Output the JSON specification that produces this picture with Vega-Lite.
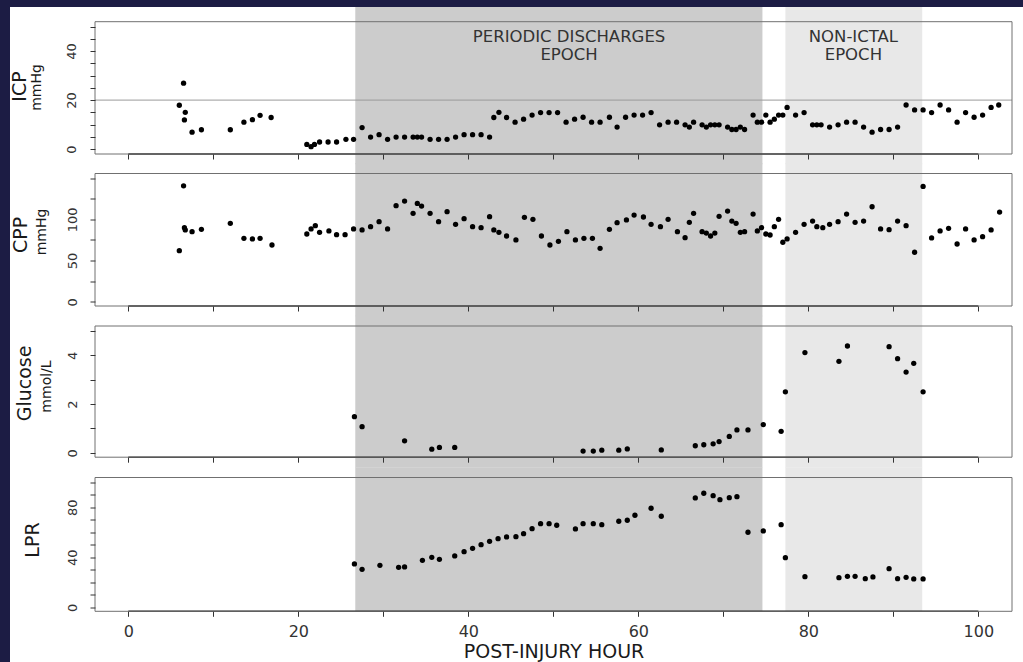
{
  "$schema": "https://vega.github.io/schema/vega-lite/v6.json",
  "padding": 0,
  "background": "white",
  "bounds": "flush",
  "spacing": 0,
  "config": {
    "view": {"stroke": null},
    "font": "DejaVu Sans",
    "axis": {"labelFont": "DejaVu Sans", "titleFont": "DejaVu Sans", "titleFontWeight": "normal", "labelColor": "#333", "titleColor": "#1a1a1a"},
    "text": {"font": "DejaVu Sans"}
  },
  "datasets": {
    "bands": [
      {"start": 26.7, "end": 74.6, "shade": "periodic discharges"},
      {"start": 77.3, "end": 93.4, "shade": "non-ictal"}
    ],
    "icp": [
      {"h": 6.0, "v": 17.9}, {"h": 6.5, "v": 26.9}, {"h": 6.7, "v": 15.0}, {"h": 6.6, "v": 11.9}, {"h": 7.5, "v": 6.9}, {"h": 8.6, "v": 7.9},
      {"h": 12.0, "v": 7.9}, {"h": 13.6, "v": 11.0}, {"h": 14.6, "v": 12.0}, {"h": 15.5, "v": 13.8}, {"h": 16.8, "v": 12.9},
      {"h": 21.0, "v": 1.9}, {"h": 21.5, "v": 1.0}, {"h": 21.9, "v": 1.9}, {"h": 22.5, "v": 2.9}, {"h": 23.5, "v": 2.9}, {"h": 24.5, "v": 2.9},
      {"h": 25.6, "v": 4.0}, {"h": 26.5, "v": 4.0}, {"h": 27.5, "v": 8.8}, {"h": 28.5, "v": 4.9}, {"h": 29.5, "v": 5.9}, {"h": 30.5, "v": 4.0},
      {"h": 31.5, "v": 4.9}, {"h": 32.5, "v": 4.9}, {"h": 33.5, "v": 4.9}, {"h": 34.0, "v": 4.9}, {"h": 34.5, "v": 4.9}, {"h": 35.5, "v": 4.0},
      {"h": 36.5, "v": 4.0}, {"h": 37.5, "v": 4.0}, {"h": 38.5, "v": 4.9}, {"h": 39.5, "v": 5.9}, {"h": 40.5, "v": 5.9}, {"h": 41.5, "v": 5.9},
      {"h": 42.5, "v": 4.9}, {"h": 43.0, "v": 12.9}, {"h": 43.6, "v": 15.0}, {"h": 44.5, "v": 12.9}, {"h": 45.5, "v": 11.0}, {"h": 46.5, "v": 12.2},
      {"h": 47.5, "v": 13.9}, {"h": 48.5, "v": 14.9}, {"h": 49.5, "v": 14.9}, {"h": 50.5, "v": 14.9}, {"h": 51.5, "v": 11.0}, {"h": 52.5, "v": 12.2},
      {"h": 53.5, "v": 13.0}, {"h": 54.5, "v": 11.0}, {"h": 55.5, "v": 11.0}, {"h": 56.6, "v": 13.0}, {"h": 57.5, "v": 9.0}, {"h": 58.5, "v": 13.0},
      {"h": 59.5, "v": 13.9}, {"h": 60.5, "v": 13.9}, {"h": 61.5, "v": 14.9}, {"h": 62.5, "v": 9.9}, {"h": 63.5, "v": 11.0}, {"h": 64.5, "v": 11.0},
      {"h": 65.5, "v": 9.9}, {"h": 66.0, "v": 9.0}, {"h": 66.5, "v": 11.0}, {"h": 67.5, "v": 9.9}, {"h": 68.0, "v": 9.0}, {"h": 68.5, "v": 9.9},
      {"h": 69.0, "v": 9.9}, {"h": 69.5, "v": 9.9}, {"h": 70.5, "v": 9.0}, {"h": 71.0, "v": 8.0}, {"h": 71.5, "v": 8.0}, {"h": 72.0, "v": 9.0},
      {"h": 72.5, "v": 8.0}, {"h": 73.5, "v": 13.9}, {"h": 74.0, "v": 11.0}, {"h": 74.5, "v": 11.0}, {"h": 75.0, "v": 13.9}, {"h": 75.5, "v": 11.0},
      {"h": 76.0, "v": 12.2}, {"h": 76.5, "v": 13.9}, {"h": 77.0, "v": 13.9}, {"h": 77.5, "v": 17.0}, {"h": 78.5, "v": 13.9}, {"h": 79.5, "v": 14.9},
      {"h": 80.5, "v": 9.9}, {"h": 81.0, "v": 9.9}, {"h": 81.5, "v": 9.9}, {"h": 82.5, "v": 9.0}, {"h": 83.5, "v": 9.9}, {"h": 84.5, "v": 11.0},
      {"h": 85.5, "v": 11.0}, {"h": 86.5, "v": 9.0}, {"h": 87.5, "v": 6.9}, {"h": 88.5, "v": 8.0}, {"h": 89.5, "v": 8.0}, {"h": 90.5, "v": 9.0},
      {"h": 91.5, "v": 18.0}, {"h": 92.5, "v": 16.0}, {"h": 93.5, "v": 16.0}, {"h": 94.5, "v": 14.9}, {"h": 95.5, "v": 18.0}, {"h": 96.5, "v": 16.0},
      {"h": 97.5, "v": 11.0}, {"h": 98.5, "v": 14.9}, {"h": 99.5, "v": 13.0}, {"h": 100.5, "v": 13.9}, {"h": 101.5, "v": 17.0}, {"h": 102.4, "v": 18.0}
    ],
    "cpp": [
      {"h": 6.0, "v": 62.0}, {"h": 6.5, "v": 140.6}, {"h": 6.6, "v": 89.9}, {"h": 6.7, "v": 87.1}, {"h": 7.5, "v": 85.0}, {"h": 8.6, "v": 87.9},
      {"h": 12.0, "v": 95.1}, {"h": 13.6, "v": 77.0}, {"h": 14.6, "v": 76.2}, {"h": 15.5, "v": 77.0}, {"h": 16.9, "v": 68.9},
      {"h": 21.0, "v": 82.2}, {"h": 21.5, "v": 88.3}, {"h": 22.0, "v": 92.3}, {"h": 22.5, "v": 84.3}, {"h": 23.6, "v": 85.9}, {"h": 24.5, "v": 81.4},
      {"h": 25.5, "v": 81.4}, {"h": 26.5, "v": 88.3}, {"h": 27.5, "v": 87.1}, {"h": 28.5, "v": 91.1}, {"h": 29.5, "v": 97.1}, {"h": 30.5, "v": 88.3},
      {"h": 31.5, "v": 116.5}, {"h": 32.5, "v": 122.1}, {"h": 33.5, "v": 107.3}, {"h": 34.0, "v": 119.3}, {"h": 34.5, "v": 116.1}, {"h": 35.5, "v": 107.3},
      {"h": 36.5, "v": 97.1}, {"h": 37.5, "v": 109.2}, {"h": 38.5, "v": 94.0}, {"h": 39.5, "v": 100.8}, {"h": 40.5, "v": 91.1}, {"h": 41.5, "v": 89.9},
      {"h": 42.5, "v": 103.2}, {"h": 43.0, "v": 87.1}, {"h": 43.6, "v": 84.3}, {"h": 44.5, "v": 79.8}, {"h": 45.6, "v": 75.0}, {"h": 46.6, "v": 102.4},
      {"h": 47.6, "v": 100.0}, {"h": 48.6, "v": 79.8}, {"h": 49.6, "v": 68.9}, {"h": 50.6, "v": 73.4}, {"h": 51.6, "v": 85.0}, {"h": 52.6, "v": 75.0},
      {"h": 53.6, "v": 77.0}, {"h": 54.6, "v": 77.0}, {"h": 55.5, "v": 64.9}, {"h": 56.6, "v": 87.9}, {"h": 57.5, "v": 95.9}, {"h": 58.6, "v": 99.2},
      {"h": 59.5, "v": 105.2}, {"h": 60.6, "v": 102.8}, {"h": 61.5, "v": 94.0}, {"h": 62.6, "v": 91.1}, {"h": 63.5, "v": 100.0}, {"h": 64.6, "v": 85.0},
      {"h": 65.5, "v": 77.8}, {"h": 66.0, "v": 96.3}, {"h": 66.5, "v": 107.3}, {"h": 67.5, "v": 85.0}, {"h": 68.0, "v": 83.4}, {"h": 68.5, "v": 79.8},
      {"h": 69.0, "v": 83.4}, {"h": 69.5, "v": 103.6}, {"h": 70.5, "v": 110.0}, {"h": 71.0, "v": 97.9}, {"h": 71.5, "v": 95.1}, {"h": 72.0, "v": 84.3},
      {"h": 72.5, "v": 85.0}, {"h": 73.5, "v": 106.4}, {"h": 74.0, "v": 85.9}, {"h": 74.5, "v": 89.9}, {"h": 75.0, "v": 82.2}, {"h": 75.5, "v": 81.0},
      {"h": 76.0, "v": 91.1}, {"h": 76.5, "v": 100.0}, {"h": 77.0, "v": 72.2}, {"h": 77.5, "v": 76.2}, {"h": 78.5, "v": 84.3}, {"h": 79.5, "v": 94.0},
      {"h": 80.5, "v": 97.9}, {"h": 81.0, "v": 91.1}, {"h": 81.7, "v": 89.9}, {"h": 82.5, "v": 94.0}, {"h": 83.5, "v": 97.1}, {"h": 84.5, "v": 106.4},
      {"h": 85.5, "v": 96.3}, {"h": 86.5, "v": 97.9}, {"h": 87.5, "v": 115.2}, {"h": 88.5, "v": 88.3}, {"h": 89.5, "v": 87.5}, {"h": 90.5, "v": 97.9},
      {"h": 91.5, "v": 92.3}, {"h": 92.5, "v": 60.1}, {"h": 93.5, "v": 139.9}, {"h": 94.5, "v": 77.4}, {"h": 95.5, "v": 85.9}, {"h": 96.5, "v": 89.1},
      {"h": 97.5, "v": 70.1}, {"h": 98.5, "v": 88.3}, {"h": 99.5, "v": 75.0}, {"h": 100.5, "v": 79.0}, {"h": 101.5, "v": 87.1}, {"h": 102.5, "v": 108.8}
    ],
    "glucose": [
      {"h": 26.6, "v": 1.48}, {"h": 27.5, "v": 1.07}, {"h": 32.5, "v": 0.49}, {"h": 35.7, "v": 0.15}, {"h": 36.6, "v": 0.22}, {"h": 38.4, "v": 0.22},
      {"h": 53.5, "v": 0.07}, {"h": 54.7, "v": 0.07}, {"h": 55.7, "v": 0.11}, {"h": 57.7, "v": 0.11}, {"h": 58.7, "v": 0.16}, {"h": 62.7, "v": 0.12},
      {"h": 66.7, "v": 0.29}, {"h": 67.7, "v": 0.33}, {"h": 68.8, "v": 0.37}, {"h": 69.5, "v": 0.46}, {"h": 70.7, "v": 0.67}, {"h": 71.6, "v": 0.94},
      {"h": 72.9, "v": 0.94}, {"h": 74.7, "v": 1.16}, {"h": 76.8, "v": 0.88}, {"h": 77.3, "v": 2.50}, {"h": 79.6, "v": 4.11}, {"h": 83.6, "v": 3.75},
      {"h": 84.6, "v": 4.38}, {"h": 89.5, "v": 4.35}, {"h": 90.5, "v": 3.86}, {"h": 91.5, "v": 3.31}, {"h": 92.4, "v": 3.67}, {"h": 93.5, "v": 2.50}
    ],
    "lpr": [
      {"h": 26.6, "v": 34.7}, {"h": 27.5, "v": 30.4}, {"h": 29.6, "v": 33.6}, {"h": 31.8, "v": 32.0}, {"h": 32.5, "v": 32.3}, {"h": 34.6, "v": 37.6},
      {"h": 35.7, "v": 40.0}, {"h": 36.6, "v": 38.4}, {"h": 38.4, "v": 41.1}, {"h": 39.5, "v": 44.5}, {"h": 40.5, "v": 47.2}, {"h": 41.5, "v": 50.1},
      {"h": 42.5, "v": 52.8}, {"h": 43.5, "v": 54.9}, {"h": 44.5, "v": 56.3}, {"h": 45.6, "v": 56.5}, {"h": 46.5, "v": 58.9}, {"h": 47.5, "v": 62.9},
      {"h": 48.5, "v": 66.9}, {"h": 49.5, "v": 66.9}, {"h": 50.4, "v": 65.6}, {"h": 52.6, "v": 62.7}, {"h": 53.5, "v": 66.9}, {"h": 54.7, "v": 66.9},
      {"h": 55.7, "v": 66.1}, {"h": 57.7, "v": 68.8}, {"h": 58.7, "v": 69.6}, {"h": 59.6, "v": 73.6}, {"h": 61.5, "v": 79.2}, {"h": 62.7, "v": 72.8},
      {"h": 66.7, "v": 87.5}, {"h": 67.7, "v": 91.2}, {"h": 68.8, "v": 89.3}, {"h": 69.6, "v": 86.1}, {"h": 70.7, "v": 87.7}, {"h": 71.6, "v": 88.5},
      {"h": 72.9, "v": 60.0}, {"h": 74.7, "v": 61.1}, {"h": 76.8, "v": 66.1}, {"h": 77.3, "v": 39.7}, {"h": 79.6, "v": 24.5}, {"h": 83.6, "v": 23.7},
      {"h": 84.6, "v": 24.8}, {"h": 85.5, "v": 24.8}, {"h": 86.7, "v": 22.9}, {"h": 87.6, "v": 24.3}, {"h": 89.5, "v": 30.9}, {"h": 90.5, "v": 22.9},
      {"h": 91.5, "v": 24.0}, {"h": 92.4, "v": 22.7}, {"h": 93.5, "v": 22.7}
    ]
  },
  "vconcat": [
    {
      "width": 1023, "height": 7,
      "view": {"fill": "#1c1c44", "stroke": null},
      "data": {"values": [{}]},
      "mark": {"type": "point", "opacity": 0},
      "encoding": {}
    },
    {
      "bounds": "flush",
      "spacing": 85,
      "hconcat": [
        {
          "width": 10, "height": 655,
          "view": {"fill": "#1c1c44", "stroke": null},
          "data": {"values": [{}]},
          "mark": {"type": "point", "opacity": 0},
          "encoding": {}
        },
        {
          "bounds": "flush",
          "spacing": 19.5,
          "vconcat": [
            {
              "width": 917, "height": 147,
              "resolve": {"axis": {"x": "independent", "y": "independent"}},
              "layer": [
                {
                  "data": {"name": "bands"},
                  "mark": {"type": "rect"},
                  "encoding": {
                    "x": {"field": "start", "type": "quantitative", "scale": {"domain": [-3.92, 103.96], "nice": false, "zero": false}, "axis": null},
                    "x2": {"field": "end"},
                    "y": {"datum": 58, "type": "quantitative", "scale": {"domain": [-2, 58], "nice": false, "zero": false},
                      "axis": {"orient": "left", "title": "ICP", "ticks": false, "labels": false, "domain": false, "grid": false, "titleFontSize": 19, "titleAngle": -90, "titleBaseline": "alphabetic", "titleAlign": "center", "titleX": -70, "titleY": 79}},
                    "y2": {"datum": -6.2},
                    "color": {"field": "shade", "type": "nominal", "scale": {"domain": ["periodic discharges", "non-ictal"], "range": ["#cccccc", "#e8e8e8"]}, "legend": null}
                  }
                },
                {
                  "data": {"values": [{}]},
                  "mark": {"type": "rule", "color": "#9a9a9a", "strokeWidth": 1},
                  "encoding": {
                    "y": {"datum": 20, "type": "quantitative", "scale": {"domain": [-2, 58], "nice": false, "zero": false}, "axis": null}
                  }
                },
                {
                  "data": {"values": [{}]},
                  "mark": {"type": "rule", "color": "#222", "strokeWidth": 1.5},
                  "encoding": {
                    "x": {"datum": 0, "type": "quantitative", "scale": {"domain": [-3.92, 103.96], "nice": false, "zero": false}, "axis": null},
                    "x2": {"datum": 100},
                    "y": {"datum": -2, "type": "quantitative", "scale": {"domain": [-2, 58], "nice": false, "zero": false}, "axis": null}
                  }
                },
                {
                  "data": {"name": "icp"},
                  "mark": {"type": "circle", "color": "#000", "size": 28, "opacity": 1},
                  "encoding": {
                    "x": {"field": "h", "type": "quantitative", "scale": {"domain": [-3.92, 103.96], "nice": false, "zero": false},
                      "axis": {"orient": "bottom", "values": [0, 10, 20, 30, 40, 50, 60, 70, 80, 90, 100], "labels": false, "title": null, "domain": false, "grid": false, "tickSize": 5, "tickColor": "#333", "zindex": 1}},
                    "y": {"field": "v", "type": "quantitative", "scale": {"domain": [-2, 58], "nice": false, "zero": false},
                      "axis": {"orient": "left", "title": "mmHg", "values": [0, 5, 10, 15, 20, 25, 30, 35, 40, 45, 50], "labelExpr": "datum.value % 20 === 0 ? datum.label : ''", "labelAngle": -90, "labelAlign": "center", "labelBaseline": "alphabetic", "labelFontSize": 13, "labelPadding": 15, "tickSize": 5, "tickColor": "#333", "domain": false, "grid": false, "titleFontSize": 14, "titleAngle": -90, "titleBaseline": "alphabetic", "titleAlign": "center", "titleX": -55, "titleY": 80, "zindex": 1}}
                  }
                },
                {
                  "data": {"values": [{}]},
                  "mark": {"type": "rect", "filled": false, "stroke": "#707070", "strokeWidth": 1},
                  "encoding": {
                    "x": {"datum": -3.92, "type": "quantitative", "scale": {"domain": [-3.92, 103.96], "nice": false, "zero": false}, "axis": null},
                    "x2": {"datum": 103.96},
                    "y": {"datum": 52, "type": "quantitative", "scale": {"domain": [-2, 58], "nice": false, "zero": false}, "axis": null},
                    "y2": {"datum": -2}
                  }
                },
                {
                  "data": {"values": [{"label": "PERIODIC DISCHARGES\nEPOCH"}]},
                  "mark": {"type": "text", "fontSize": 16.5, "color": "#333", "lineBreak": "\n", "lineHeight": 18, "baseline": "alphabetic", "align": "center"},
                  "encoding": {
                    "text": {"field": "label"},
                    "x": {"datum": 51.85, "type": "quantitative", "scale": {"domain": [-3.92, 103.96], "nice": false, "zero": false}, "axis": null},
                    "y": {"datum": 43.7, "type": "quantitative", "scale": {"domain": [-2, 58], "nice": false, "zero": false}, "axis": null}
                  }
                },
                {
                  "data": {"values": [{"label": "NON-ICTAL\nEPOCH"}]},
                  "mark": {"type": "text", "fontSize": 16.5, "color": "#333", "lineBreak": "\n", "lineHeight": 18, "baseline": "alphabetic", "align": "center"},
                  "encoding": {
                    "text": {"field": "label"},
                    "x": {"datum": 85.3, "type": "quantitative", "scale": {"domain": [-3.92, 103.96], "nice": false, "zero": false}, "axis": null},
                    "y": {"datum": 43.7, "type": "quantitative", "scale": {"domain": [-2, 58], "nice": false, "zero": false}, "axis": null}
                  }
                }
              ]
            },
            {
              "width": 917, "height": 132.5,
              "resolve": {"axis": {"x": "independent", "y": "independent"}},
              "layer": [
                {
                  "data": {"name": "bands"},
                  "mark": {"type": "rect"},
                  "encoding": {
                    "x": {"field": "start", "type": "quantitative", "scale": {"domain": [-3.92, 103.96], "nice": false, "zero": false}, "axis": null},
                    "x2": {"field": "end"},
                    "y": {"datum": 167.9, "type": "quantitative", "scale": {"domain": [-5, 155.5], "nice": false, "zero": false},
                      "axis": {"orient": "left", "title": "CPP", "ticks": false, "labels": false, "domain": false, "grid": false, "titleFontSize": 19, "titleAngle": -90, "titleBaseline": "alphabetic", "titleAlign": "center", "titleX": -69, "titleY": 61}},
                    "y2": {"datum": -17.4},
                    "color": {"field": "shade", "type": "nominal", "scale": {"domain": ["periodic discharges", "non-ictal"], "range": ["#cccccc", "#e8e8e8"]}, "legend": null}
                  }
                },
                {
                  "data": {"values": [{}]},
                  "mark": {"type": "rule", "color": "#222", "strokeWidth": 1.5},
                  "encoding": {
                    "x": {"datum": 0, "type": "quantitative", "scale": {"domain": [-3.92, 103.96], "nice": false, "zero": false}, "axis": null},
                    "x2": {"datum": 100},
                    "y": {"datum": -5, "type": "quantitative", "scale": {"domain": [-5, 155.5], "nice": false, "zero": false}, "axis": null}
                  }
                },
                {
                  "data": {"name": "cpp"},
                  "mark": {"type": "circle", "color": "#000", "size": 28, "opacity": 1},
                  "encoding": {
                    "x": {"field": "h", "type": "quantitative", "scale": {"domain": [-3.92, 103.96], "nice": false, "zero": false},
                      "axis": {"orient": "bottom", "values": [0, 10, 20, 30, 40, 50, 60, 70, 80, 90, 100], "labels": false, "title": null, "domain": false, "grid": false, "tickSize": 5, "tickColor": "#333", "zindex": 1}},
                    "y": {"field": "v", "type": "quantitative", "scale": {"domain": [-5, 155.5], "nice": false, "zero": false},
                      "axis": {"orient": "left", "title": "mmHg", "values": [0, 25, 50, 75, 100, 125, 150], "labelExpr": "datum.value % 50 === 0 && datum.value < 150 ? datum.label : ''", "labelAngle": -90, "labelAlign": "center", "labelBaseline": "alphabetic", "labelFontSize": 13, "labelPadding": 14, "tickSize": 5, "tickColor": "#333", "domain": false, "grid": false, "titleFontSize": 14, "titleAngle": -90, "titleBaseline": "alphabetic", "titleAlign": "center", "titleX": -50, "titleY": 58, "zindex": 1}}
                  }
                },
                {
                  "data": {"values": [{}]},
                  "mark": {"type": "rect", "filled": false, "stroke": "#707070", "strokeWidth": 1},
                  "encoding": {
                    "x": {"datum": -3.92, "type": "quantitative", "scale": {"domain": [-3.92, 103.96], "nice": false, "zero": false}, "axis": null},
                    "x2": {"datum": 103.96},
                    "y": {"datum": 155.5, "type": "quantitative", "scale": {"domain": [-5, 155.5], "nice": false, "zero": false}, "axis": null},
                    "y2": {"datum": -5}
                  }
                }
              ]
            },
            {
              "width": 917, "height": 131.2,
              "resolve": {"axis": {"x": "independent", "y": "independent"}},
              "layer": [
                {
                  "data": {"name": "bands"},
                  "mark": {"type": "rect"},
                  "encoding": {
                    "x": {"field": "start", "type": "quantitative", "scale": {"domain": [-3.92, 103.96], "nice": false, "zero": false}, "axis": null},
                    "x2": {"field": "end"},
                    "y": {"datum": 5.62, "type": "quantitative", "scale": {"domain": [-0.18, 5.2], "nice": false, "zero": false},
                      "axis": {"orient": "left", "title": "Glucose", "ticks": false, "labels": false, "domain": false, "grid": false, "titleFontSize": 19, "titleAngle": -90, "titleBaseline": "alphabetic", "titleAlign": "center", "titleX": -65, "titleY": 57}},
                    "y2": {"datum": -0.6},
                    "color": {"field": "shade", "type": "nominal", "scale": {"domain": ["periodic discharges", "non-ictal"], "range": ["#cccccc", "#e8e8e8"]}, "legend": null}
                  }
                },
                {
                  "data": {"values": [{}]},
                  "mark": {"type": "rule", "color": "#222", "strokeWidth": 1.5},
                  "encoding": {
                    "x": {"datum": 0, "type": "quantitative", "scale": {"domain": [-3.92, 103.96], "nice": false, "zero": false}, "axis": null},
                    "x2": {"datum": 100},
                    "y": {"datum": -0.18, "type": "quantitative", "scale": {"domain": [-0.18, 5.2], "nice": false, "zero": false}, "axis": null}
                  }
                },
                {
                  "data": {"name": "glucose"},
                  "mark": {"type": "circle", "color": "#000", "size": 28, "opacity": 1},
                  "encoding": {
                    "x": {"field": "h", "type": "quantitative", "scale": {"domain": [-3.92, 103.96], "nice": false, "zero": false},
                      "axis": {"orient": "bottom", "values": [0, 10, 20, 30, 40, 50, 60, 70, 80, 90, 100], "labels": false, "title": null, "domain": false, "grid": false, "tickSize": 5, "tickColor": "#333", "zindex": 1}},
                    "y": {"field": "v", "type": "quantitative", "scale": {"domain": [-0.18, 5.2], "nice": false, "zero": false},
                      "axis": {"orient": "left", "title": "mmol/L", "values": [0, 0.5, 1, 1.5, 2, 2.5, 3, 3.5, 4, 4.5, 5], "format": "d", "labelExpr": "datum.value === 0 || datum.value === 2 || datum.value === 4 ? datum.label : ''", "labelAngle": -90, "labelAlign": "center", "labelBaseline": "alphabetic", "labelFontSize": 13, "labelPadding": 14, "tickSize": 5, "tickColor": "#333", "domain": false, "grid": false, "titleFontSize": 14, "titleAngle": -90, "titleBaseline": "alphabetic", "titleAlign": "center", "titleX": -45, "titleY": 60, "zindex": 1}}
                  }
                },
                {
                  "data": {"values": [{}]},
                  "mark": {"type": "rect", "filled": false, "stroke": "#707070", "strokeWidth": 1},
                  "encoding": {
                    "x": {"datum": -3.92, "type": "quantitative", "scale": {"domain": [-3.92, 103.96], "nice": false, "zero": false}, "axis": null},
                    "x2": {"datum": 103.96},
                    "y": {"datum": 5.2, "type": "quantitative", "scale": {"domain": [-0.18, 5.2], "nice": false, "zero": false}, "axis": null},
                    "y2": {"datum": -0.18}
                  }
                }
              ]
            },
            {
              "width": 917, "height": 133.8,
              "resolve": {"axis": {"x": "independent", "y": "independent"}},
              "layer": [
                {
                  "data": {"name": "bands"},
                  "mark": {"type": "rect"},
                  "encoding": {
                    "x": {"field": "start", "type": "quantitative", "scale": {"domain": [-3.92, 103.96], "nice": false, "zero": false}, "axis": null},
                    "x2": {"field": "end"},
                    "y": {"datum": 111.9, "type": "quantitative", "scale": {"domain": [-3.2, 103.8], "nice": false, "zero": false}, "axis": null},
                    "y2": {"datum": -3.2},
                    "color": {"field": "shade", "type": "nominal", "scale": {"domain": ["periodic discharges", "non-ictal"], "range": ["#cccccc", "#e8e8e8"]}, "legend": null}
                  }
                },
                {
                  "data": {"values": [{}]},
                  "mark": {"type": "rule", "color": "#222", "strokeWidth": 1.5},
                  "encoding": {
                    "x": {"datum": 0, "type": "quantitative", "scale": {"domain": [-3.92, 103.96], "nice": false, "zero": false}, "axis": null},
                    "x2": {"datum": 100},
                    "y": {"datum": -3.2, "type": "quantitative", "scale": {"domain": [-3.2, 103.8], "nice": false, "zero": false}, "axis": null}
                  }
                },
                {
                  "data": {"name": "lpr"},
                  "mark": {"type": "circle", "color": "#000", "size": 28, "opacity": 1},
                  "encoding": {
                    "x": {"field": "h", "type": "quantitative", "scale": {"domain": [-3.92, 103.96], "nice": false, "zero": false},
                      "axis": {"orient": "bottom", "values": [0, 10, 20, 30, 40, 50, 60, 70, 80, 90, 100], "labelExpr": "datum.value % 20 === 0 ? datum.label : ''", "labelFontSize": 16, "labelBaseline": "alphabetic", "labelPadding": 20, "title": "POST-INJURY HOUR", "titleFontSize": 19, "titleBaseline": "alphabetic", "titleY": 46, "domain": false, "grid": false, "tickSize": 5, "tickColor": "#333", "zindex": 1}},
                    "y": {"field": "v", "type": "quantitative", "scale": {"domain": [-3.2, 103.8], "nice": false, "zero": false},
                      "axis": {"orient": "left", "title": "LPR", "values": [0, 10, 20, 30, 40, 50, 60, 70, 80, 90, 100], "labelExpr": "datum.value % 40 === 0 ? datum.label : ''", "labelAngle": -90, "labelAlign": "center", "labelBaseline": "alphabetic", "labelFontSize": 13, "labelPadding": 14, "tickSize": 5, "tickColor": "#333", "domain": false, "grid": false, "titleFontSize": 19, "titleAngle": -90, "titleBaseline": "alphabetic", "titleAlign": "center", "titleX": -57, "titleY": 62, "zindex": 1}}
                  }
                },
                {
                  "data": {"values": [{}]},
                  "mark": {"type": "rect", "filled": false, "stroke": "#707070", "strokeWidth": 1},
                  "encoding": {
                    "x": {"datum": -3.92, "type": "quantitative", "scale": {"domain": [-3.92, 103.96], "nice": false, "zero": false}, "axis": null},
                    "x2": {"datum": 103.96},
                    "y": {"datum": 103.8, "type": "quantitative", "scale": {"domain": [-3.2, 103.8], "nice": false, "zero": false}, "axis": null},
                    "y2": {"datum": -3.2}
                  }
                }
              ]
            }
          ]
        }
      ]
    }
  ]
}
